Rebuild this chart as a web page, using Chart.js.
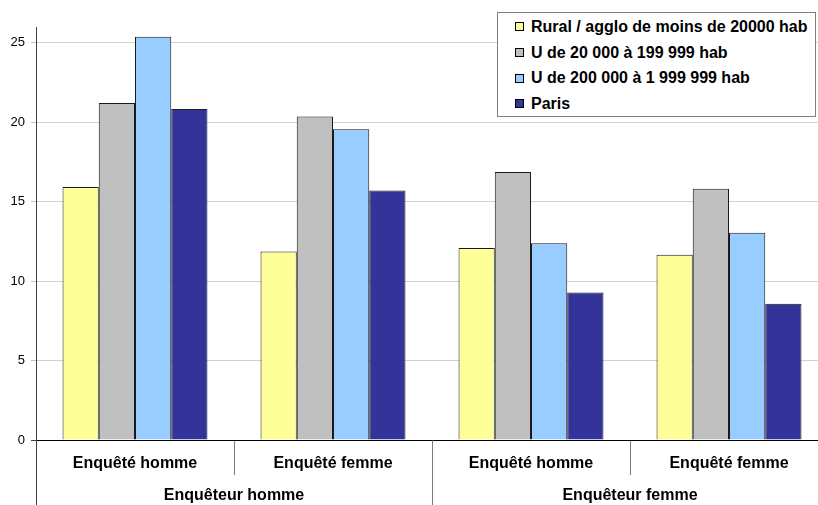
<!DOCTYPE html>
<html>
<head>
<meta charset="utf-8">
<script src="https://cdn.jsdelivr.net/npm/chart.js@4.4.1/dist/chart.umd.min.js"></script>
<style>
  html, body { margin: 0; padding: 0; overflow: hidden; background: #fff; width: 818px; height: 505px; }
  #wrap { position: absolute; left: 0; top: 0; width: 830px; height: 505px; }
  #legend {
    position: absolute; left: 497px; top: 12px; width: 319px; height: 105px;
    box-sizing: border-box; border: 1px solid #808080; background: #fff;
    padding-top: 1px; font: bold 16px "Liberation Sans", Arial, sans-serif; color: #000;
  }
  .item { display: flex; align-items: center; height: 25.7px; padding-left: 17px; white-space: nowrap; }
  .sw { width: 9px; height: 9px; box-sizing: border-box; border: 1px solid #000; margin-right: 7px; flex: none; }
</style>
</head>
<body>
<div id="wrap"><canvas id="c" width="830" height="505"></canvas></div>
<div id="legend"></div>
<script>
// Inner categories (respondent) and outer groups (interviewer)
const categories = ['Enquêté homme', 'Enquêté femme', 'Enquêté homme', 'Enquêté femme'];
const groups = ['Enquêteur homme', 'Enquêteur femme'];

// Series names
const seriesNames = [
  'Rural / agglo de moins de 20000 hab',
  'U de 20 000 à 199 999 hab',
  'U de 200 000 à 1 999 999 hab',
  'Paris'
];

// Series values, one per category
const rural   = [15.92, 11.87, 12.08, 11.66];
const u20k    = [21.21, 20.37, 16.87, 15.82];
const u200k   = [25.38, 19.57, 12.38, 13.05];
const paris   = [20.83, 15.71,  9.29,  8.58];

// Value axis ticks
const yTicks = [0, 5, 10, 15, 20, 25];

const seriesValues = [rural, u20k, u200k, paris];
const seriesColors = ['#FFFF99', '#C0C0C0', '#99CCFF', '#333399'];

Chart.defaults.font.family = '"Liberation Sans", Arial, sans-serif';
Chart.defaults.color = '#000';

const datasets = seriesNames.map((name, i) => ({
  label: name,
  data: seriesValues[i],
  backgroundColor: seriesColors[i],
  borderColor: '#1a1a1a',
  borderWidth: 1,
  barPercentage: 1,
  categoryPercentage: 0.732
}));

new Chart(document.getElementById('c'), {
  type: 'bar',
  data: { labels: categories, datasets },
  options: {
    responsive: false,
    animation: false,
    layout: { padding: { top: 27, right: 2, left: 0, bottom: 0 } },
    plugins: { legend: { display: false }, tooltip: { enabled: false } },
    scales: {
      x: {
        type: 'category',
        position: 'bottom',
        offset: true,
        grid: {
          offset: true,
          drawOnChartArea: false,
          tickLength: 35,
          color: ctx => ctx.index === 0 ? '#404040' : '#7a7a7a'
        },
        border: { display: true, color: '#000', width: 1 },
        ticks: { padding: -21, font: { size: 16, weight: 'bold' }, color: '#000', maxRotation: 0, autoSkip: false },
        afterFit: s => { s.height = 35; }
      },
      x2: {
        type: 'category',
        labels: groups,
        position: 'bottom',
        offset: true,
        weight: 1,
        grid: {
          offset: true,
          drawOnChartArea: false,
          tickLength: 30,
          color: ctx => ctx.index === 0 ? '#404040' : '#7a7a7a'
        },
        border: { display: false },
        ticks: { padding: -19, font: { size: 16, weight: 'bold' }, color: '#000', maxRotation: 0, autoSkip: false },
        afterFit: s => { s.height = 30; }
      },
      y: {
        position: 'left',
        min: 0,
        max: 26,
        afterBuildTicks: s => { s.ticks = yTicks.map(v => ({ value: v })); },
        grid: {
          color: ctx => ctx.tick && ctx.tick.value === 0 ? 'rgba(0,0,0,0)' : '#d0d0d0',
          tickLength: 5,
          tickColor: ctx => ctx.tick && ctx.tick.value === 0 ? '#404040' : '#c0c0c0'
        },
        border: { color: '#404040' },
        ticks: { padding: 6, font: { size: 13 }, color: '#000' },
        afterFit: s => { s.width = 36; }
      }
    }
  }
});

// Legend box built from the series names and colours
const legend = document.getElementById('legend');
seriesNames.forEach((name, i) => {
  const row = document.createElement('div');
  row.className = 'item';
  const sw = document.createElement('span');
  sw.className = 'sw';
  sw.style.background = seriesColors[i];
  const txt = document.createElement('span');
  txt.textContent = name;
  row.appendChild(sw);
  row.appendChild(txt);
  legend.appendChild(row);
});
</script>
</body>
</html>
